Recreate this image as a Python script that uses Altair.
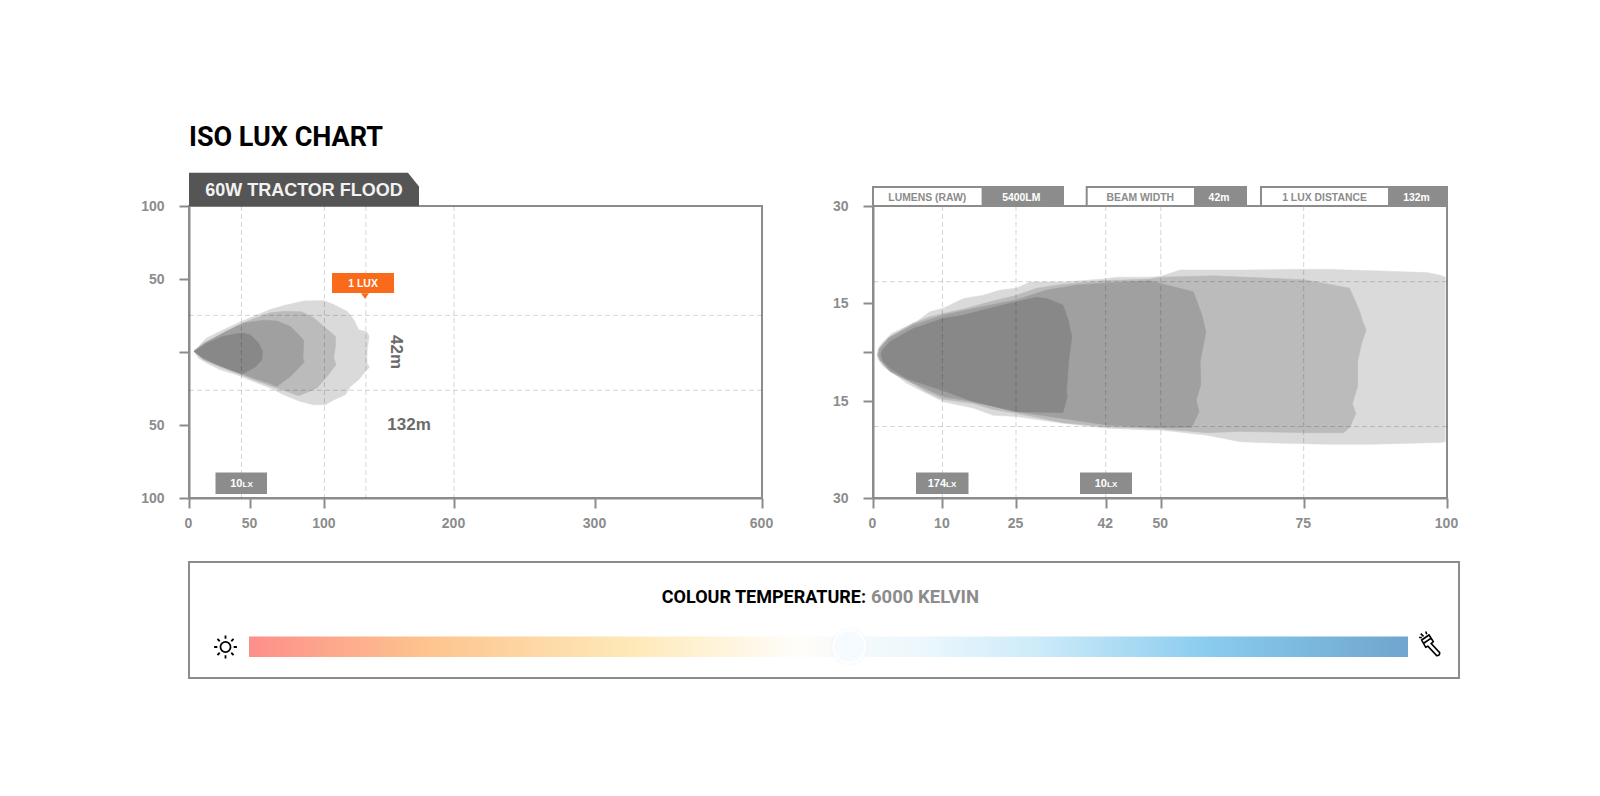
import altair as alt
import pandas as pd

# ---- left chart: isolux outlines (metres along beam, metres across) ----
wide_1_x = [4.1,9,14.5,25.5,39.2,50.1,63.6,72.6,86.1,99.5,107.2,117.5,122.6,126.5,132.9,134.5,132.9,132.9,134.8,131.6,126.5,120,116.2,107.2,100.8,92.8,83.8,72.6,63.6,52.3,39.2,25.5,14.5,7.6]
wide_1_y = [.5,5,9.6,14.2,19.5,23.4,29.1,31.8,35,35.3,32.5,27.9,22.2,15.3,13.7,10.8,.5,-7.6,-10.5,-13.3,-19,-23.6,-29.3,-32.8,-36.2,-36.2,-33.9,-29.3,-24.7,-20.2,-15.6,-12.1,-7.6,-4.1]
wide_2_x = [4.1,11.7,25.5,41.9,52.3,63.6,73.8,84.9,92.8,100.8,108.5,108.5,107.2,109,102,95,87.2,82.7,74.9,63.6,52.3,39.2,25.5,11.7]
wide_2_y = [.5,6.2,11.9,18.8,22.7,26.8,27.9,27.5,23.4,16.5,10.8,3.9,-4.1,-8.7,-16.7,-24.7,-28.2,-30,-27,-23.1,-19,-14.4,-10.3,-5.3]
wide_3_x = [4.1,14.5,28.2,44.7,59.1,68.1,77.1,82.7,86.1,85.6,86.5,82.7,77.1,68.1,62.5,52.3,41.9,25.5,11.7]
wide_3_y = [.5,6.6,13.1,19.9,21.8,21.3,17.6,11.9,8,-4.1,-6.9,-11,-16.7,-23.6,-21.3,-17.9,-14.4,-9.4,-4.8]
wide_4_x = [4.1,14.5,28.2,43.3,50.1,55.7,58.4,58,53.5,43.3,33.6,20,10.4]
wide_4_y = [.5,6.2,10.8,13.1,11.9,6.2,.5,-5.3,-10.3,-15.1,-12.1,-7.6,-3.4]

# ---- right chart: isolux outlines ----
near_1_x = [.62,.77,1.25,1.97,2.7,3.9,6.3,8.2,10.2,14.3,18.3,21.8,25.1,27.65,33.9,41.5,43.6,48.4,49.9,53.4,63.9,74.9,79,87.1,96.5,98.9,99.7,99.7,98.9,87.1,79,69.7,63.9,58.1,49.9,48.4,42.15,33.9,25.1,20.3,16.3,10.2,7.7,4.85,2.93,1.49,.77]
near_1_y = [-.9,1.1,2.65,4.2,5.7,6.9,9.3,12.3,13.4,15.7,16.2,17,17.3,18.25,18.25,18.7,19,19,19.1,20.1,20.1,20.2,20.2,20,19.7,19.3,19,-21.3,-21.4,-21.7,-21.7,-21.5,-21.3,-20.3,-19.5,-19.5,-19.2,-18.45,-17.4,-17.2,-16.1,-15.1,-12.65,-9.6,-6.5,-4.5,-2.45]
near_2_x = [.62,.85,2.45,5.8,8.2,10.2,14.95,19.7,25.1,28.9,33.9,41.5,48.4,49.9,59.2,74.9,77.3,83,84.8,85.3,85.9,85.1,84.4,84.4,83.5,84.1,83.1,82,75.5,63.9,58.1,49.9,48.4,42.15,33.9,25.1,20.3,16.3,10.2,7.7,4.85,2.45,1]
near_2_y = [-.9,1.1,4.7,8.8,10.8,11.8,13.4,15.2,16.2,17.3,17.9,18.45,18.7,19,19.2,18.6,18.25,17.3,12.3,9.3,6.7,2.65,-2.96,-10.6,-15.4,-16.9,-19,-19.9,-19.9,-19.7,-19.9,-19.3,-19.2,-19,-18.35,-16.9,-16.3,-15.4,-14.5,-12.1,-8.6,-5,-2.45]
near_3_x = [.77,1,2.2,5.8,10.2,18.3,25.1,30.8,36.5,42.15,48.4,55.7,57.2,57.9,56.9,57,56.2,56.7,55.4,49.9,47,42.15,33.9,25.1,16.3,10.2,4.85,2.45,1]
near_3_y = [-.9,1.1,4.2,8.3,11.3,13.9,15.5,17,17.8,18.1,18.45,16.75,11.3,6.2,-2.96,-10.1,-14.7,-16.65,-19.1,-19.1,-19,-18.7,-17.7,-16.65,-15.1,-13.7,-8.6,-6,-2.45]
near_4_x = [1.15,1.35,2.45,5.8,10.2,14.3,19.7,25.1,28.9,30.8,33.9,34.9,35.6,35,34.6,34.7,33.9,25.1,16.3,10.2,4.85,2.45,1.49]
near_4_y = [-.9,.6,3.2,7.2,10.3,11.3,13.4,15.2,15.9,15.7,14.4,9.8,4.7,-2.45,-11.6,-13.7,-16.8,-16.65,-15.1,-11.9,-8.1,-5,-2.96]

lux_colors = ["#dadada", "#bbbbbb", "#a0a0a0", "#888888"]

# ---- axes ----
left_x_ticks = [0, 50, 100, 200, 300, 600]
left_x_pos = [0, 61, 135.4, 265, 406, 573]
left_y_ticks = [-100, -50, 0, 50, 100]
left_guides_x = [43, 100, 132, 200]
left_guides_y = [-26.2, 25.1]
right_x_ticks = [0, 10, 25, 42, 50, 75, 100]
right_x_pos = [0, 69.4, 143, 232.7, 287.8, 430.7, 574]
right_y_ticks = [-30, -15, 0, 15, 30]
right_y_pos = [292, 195, 146, 97, 0]
right_guides_x = [10, 25, 42, 50, 75]
right_guides_y = [-18.95, 18.3]

# ---- colour-temperature bar ----
kelvin_offsets = [0, .155, .33, .47, .58, .68, .83, 1]
kelvin_colors = ["#fd8f8a", "#fdc48f", "#fee9b8", "#fffdf8", "#ecf7fd", "#cdebf9", "#89cbee", "#6fa5ce"]
knob_position = 0.518

GREY = "#8c8c8c"
AXF = "Liberation Sans"
one = pd.DataFrame({"a": [0]})


def outline(xs, ys, xscale, yscale, color):
    d = pd.DataFrame({"x": xs, "y": ys, "i": range(len(xs))})
    return alt.Chart(d).mark_line(fill=color, stroke=color, strokeWidth=0.5, interpolate="linear-closed").encode(
        x=alt.X("x:Q", scale=xscale, title=None),
        y=alt.Y("y:Q", scale=yscale, title=None),
        order="i:Q",
    )


def guides(xs, ys, xscale, yscale):
    dash = dict(color="#000000", opacity=0.17, strokeDash=[5, 3], strokeWidth=1)
    a = alt.Chart(pd.DataFrame({"x": xs})).mark_rule(**dash).encode(x=alt.X("x:Q", scale=xscale, title=None))
    b = alt.Chart(pd.DataFrame({"y": ys})).mark_rule(**dash).encode(y=alt.Y("y:Q", scale=yscale, title=None))
    return [a, b]


def box(x0, x1, y0, y1, **kw):
    return alt.Chart(one).mark_rect(**kw).encode(
        x=alt.value(x0), x2=alt.value(x1), y=alt.value(y0), y2=alt.value(y1))


def label(txt, x, y, size=11, color="#ffffff", font=AXF, weight="bold", align="center", **kw):
    return alt.Chart(one).mark_text(text=txt, fontSize=size, color=color, font=font, fontWeight=weight,
                                    align=align, baseline="alphabetic", **kw).encode(x=alt.value(x), y=alt.value(y))


def icon(path, x, y, size, **kw):
    return alt.Chart(one).mark_point(shape=path, size=size, opacity=1, **kw).encode(x=alt.value(x), y=alt.value(y))


def lx_tag(x0, x1, split, number):
    return [box(x0, x1, 266.5, 288, color=GREY),
            label(number, split, 281, size=11, align="right"),
            label("LX", split, 281, size=8, align="left")]


axis_common = dict(domainColor=GREY, domainWidth=2, tickColor=GREY, tickWidth=2, tickSize=10,
                   labelFont=AXF, labelFontWeight="bold", labelFontSize=14, labelColor=GREY, grid=False,
                   labelFlush=False, labelOverlap=False)

lx = alt.Scale(domain=left_x_ticks, range=left_x_pos)
ly = alt.Scale(domain=[-100, 100], range=[292, 0])
rx = alt.Scale(domain=right_x_ticks, range=right_x_pos)
ry = alt.Scale(domain=right_y_ticks, range=right_y_pos)

left_axes = alt.Chart(pd.DataFrame({"x": [0], "y": [0]})).mark_point(opacity=0).encode(
    x=alt.X("x:Q", scale=lx, title=None, axis=alt.Axis(values=left_x_ticks, labelPadding=8, labelOffset=-1, **axis_common)),
    y=alt.Y("y:Q", scale=ly, title=None, axis=alt.Axis(values=left_y_ticks, labelPadding=15,
            labelExpr="datum.value == 0 ? '' : abs(datum.value)", **axis_common)),
)
right_axes = alt.Chart(pd.DataFrame({"x": [0], "y": [0]})).mark_point(opacity=0).encode(
    x=alt.X("x:Q", scale=rx, title=None, axis=alt.Axis(values=right_x_ticks, labelPadding=8, labelOffset=-1, **axis_common)),
    y=alt.Y("y:Q", scale=ry, title=None, axis=alt.Axis(values=right_y_ticks, labelPadding=15,
            labelExpr="datum.value == 0 ? '' : abs(datum.value)", **axis_common)),
)

left_layers = [left_axes]
for xs, ys, c in zip([wide_1_x, wide_2_x, wide_3_x, wide_4_x], [wide_1_y, wide_2_y, wide_3_y, wide_4_y], lux_colors):
    left_layers.append(outline(xs, ys, lx, ly, c))
left_layers += guides(left_guides_x, left_guides_y, lx, ly)
left_layers += [
    label("ISO LUX CHART", 0, -60, size=27, color="#000000", font="Roboto", align="left"),
    icon("M-1,-.145L.904,-.145L1,-.026L1,.145L-1,.145Z", 115, -16.5, 52900, filled=True, fill="#555555", strokeWidth=0),
    label("60W TRACTOR FLOOD", 115, -10, size=18, color="#f2f2f2"),
    box(143, 205, 67, 87, color="#f96a1b"),
    icon("M-1,-.7L1,-.7L0,.7Z", 176, 90, 64, filled=True, fill="#f96a1b", strokeWidth=0),
    label("1 LUX", 174, 81, size=10.5),
    alt.Chart(one).mark_text(text="42m", fontSize=17, color="#6a6a6a", font=AXF, fontWeight="bold", angle=90,
                             align="center", baseline="middle").encode(x=alt.value(207), y=alt.value(146)),
    label("132m", 220, 224, size=17, color="#6a6a6a"),
]
left_layers += lx_tag(26.5, 78, 53.5, "10")

right_layers = [right_axes]
for xs, ys, c in zip([near_1_x, near_2_x, near_3_x, near_4_x], [near_1_y, near_2_y, near_3_y, near_4_y], lux_colors):
    right_layers.append(outline(xs, ys, rx, ry, c))
right_layers += guides(right_guides_x, right_guides_y, rx, ry)
for x0, x1, x2, name, value in [(0, 108.6, 190, "LUMENS (RAW)", "5400LM"),
                                (213.7, 321, 373, "BEAM WIDTH", "42m"),
                                (388, 515, 574, "1 LUX DISTANCE", "132m")]:
    right_layers += [
        box(x0, x2, -19, 0, fill="#ffffff", stroke=GREY, strokeWidth=2),
        box(x1, x2, -19, 0, color=GREY),
        label(name, (x0 + x1) / 2, -5.5, size=10.4, color=GREY),
        label(value, (x1 + x2) / 2 - 1, -5.5, size=10.4),
    ]
right_layers += lx_tag(43, 95.5, 73, "174")
right_layers += lx_tag(207, 259, 234, "10")

left = alt.layer(*left_layers).properties(width=573, height=292)
right = alt.layer(*right_layers).properties(width=574, height=292)

grad = alt.Gradient(gradient="linear", x1=0, x2=1, y1=0, y2=0,
                    stops=[alt.GradientStop(offset=o, color=c) for o, c in zip(kelvin_offsets, kelvin_colors)])
kx = alt.Scale(domain=[0, 1], range=[60, 1219])
kd = pd.DataFrame({"start": [0], "end": [1], "knob": [knob_position]})
bar = alt.Chart(kd).mark_rect(color=grad).encode(
    x=alt.X("start:Q", scale=kx, axis=None, title=None), x2="end:Q", y=alt.value(74.5), y2=alt.value(95))
knobs = [alt.Chart(kd).mark_circle(size=s, color=c, opacity=o).encode(
            x=alt.X("knob:Q", scale=kx, axis=None, title=None), y=alt.value(84.5))
         for s, c, o in [(1500, "#000000", .01), (1300, "#000000", .012)]]
knob = alt.Chart(kd).mark_point(size=1050, filled=True, fill="#f5fbff", stroke="#ffffff", strokeWidth=2, opacity=1, shape="circle").encode(
    x=alt.X("knob:Q", scale=kx, axis=None, title=None), y=alt.value(84.5))
sun = "M.42,0A.42,.42,0,1,1,-.42,0A.42,.42,0,1,1,.42,0ZM0,-.95L0,-.68M0,.68L0,.95M-.95,0L-.68,0M.68,0L.95,0M-.67,-.67L-.48,-.48M.67,-.67L.48,-.48M-.67,.67L-.48,.48M.67,.67L.48,.48"
torch = "M-.67,-.27L0,-.73L.39,-.12L.2,.05L.97,.88Q1,1.15,.7,1.15L-.1,.3L-.3,.39ZM-.45,0L.2,-.45M-.9,-.5L-.65,-.5M-.75,-.85L-.5,-.6M-.3,-1.05L-.2,-.8"
panel = alt.layer(
    bar, *knobs, knob,
    label("COLOUR TEMPERATURE:", 677, 41, size=18, color="#000000", font="Roboto", align="right"),
    label("6000 KELVIN", 682, 41, size=18.5, color=GREY, font="Roboto", align="left"),
    icon(sun, 36.5, 85, 576, stroke="#000000", strokeWidth=1.8),
    icon(torch, 1240, 81, 484, stroke="#000000", strokeWidth=1.6),
).properties(width=1270, height=116)

top = alt.hconcat(left, right, spacing=111, bounds="flush")
chart = alt.vconcat(top, panel, spacing=356, bounds="flush").resolve_scale(x="independent", y="independent").properties(
    padding={"left": 131, "top": 115, "right": 5, "bottom": 5}, background="#ffffff"
).configure_view(stroke=GREY, strokeWidth=2)
chart.save("out.html", embed_options={"renderer": "svg", "actions": False})
